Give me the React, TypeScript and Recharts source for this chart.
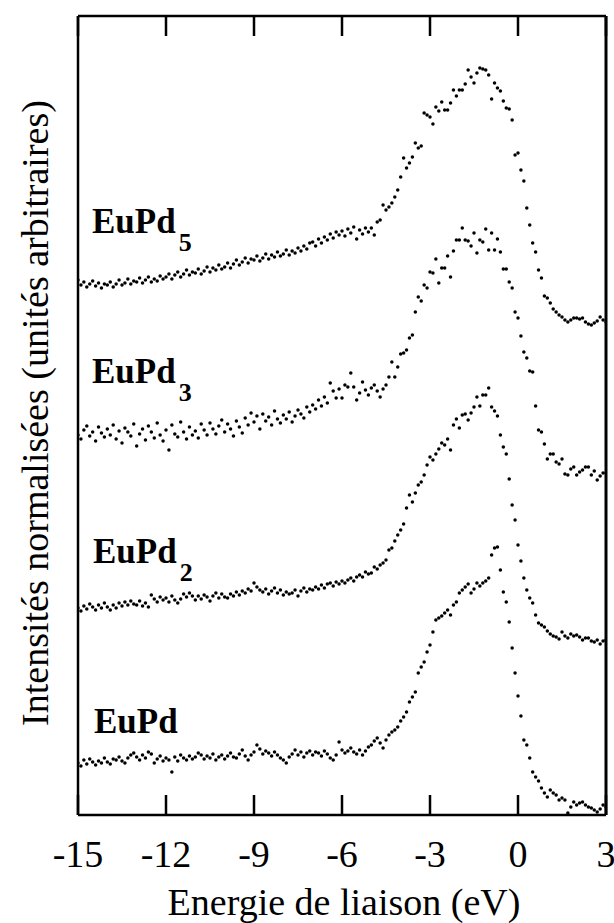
import { ScatterChart, Scatter, XAxis, YAxis, ReferenceLine } from 'recharts';

// binding energy grid: -15 eV to +3 eV, one point every 0.1 eV
const ENERGY_START = -15;
const ENERGY_STEP = 0.1;
const X_TICKS = [-15, -12, -9, -6, -3, 0, 3];
const Y_MAX = 799;

// normalised intensities (arbitrary units, offsets included)
const eupd5 = [
  535, 530, 533, 528, 531, 534, 529, 532, 527, 531,
  530, 533, 528, 531, 535, 530, 532, 536, 531, 534,
  533, 537, 532, 535, 538, 533, 536, 534, 539, 536,
  538, 541, 536, 540, 543, 538, 541, 545, 540, 543,
  542, 546, 541, 544, 548, 543, 547, 545, 550, 546,
  548, 552, 547, 551, 555, 550, 553, 557, 552, 556,
  555, 559, 554, 557, 561, 556, 560, 558, 563, 559,
  561, 565, 560, 564, 562, 567, 564, 569, 566, 572,
  573, 569, 576, 572, 578, 575, 581, 577, 583, 580,
  584, 579, 586, 582, 588, 576, 585, 581, 587, 583,
  587, 580, 593, 595, 610, 605, 608, 612, 618, 625,
  638, 657, 647, 652, 658, 672, 667, 669, 702, 700,
  698, 691, 708, 704, 713, 705, 705, 712, 725, 719,
  725, 725, 731, 745, 738, 732, 742, 747, 746, 745,
  740, 716, 732, 727, 724, 714, 707, 706, 695, 660,
  662, 645, 634, 607, 590, 572, 563, 545, 537, 519,
  517, 512, 506, 503, 500, 498, 495, 493, 495, 497,
  497, 496, 497, 493, 491, 490, 492, 494, 498, 495,
  493,
];

const eupd3 = [
  380, 376, 385, 389, 379, 383, 374, 388, 382, 378,
  386, 380, 390, 376, 384, 372, 387, 383, 379, 391,
  369, 381, 386, 375, 389, 383, 377, 392, 380, 374,
  385, 365, 390, 381, 378, 393, 383, 376, 388, 380,
  384, 377, 391, 385, 380, 392, 386, 381, 389, 395,
  383, 391, 386, 379, 394, 388, 382, 397, 390, 402,
  393, 399, 386, 401, 394, 398, 390, 404, 396, 392,
  400, 396, 403, 393, 399, 405, 401, 397, 408, 403,
  410, 406, 415, 409, 418, 412, 432, 424, 417, 426,
  417, 430, 428, 442, 428, 415, 422, 433, 425, 420,
  427, 430, 424, 418, 426, 430, 438, 453, 438, 448,
  461, 462, 465, 477, 480, 503, 518, 514, 530, 527,
  543, 542, 556, 532, 547, 547, 559, 538, 564, 575,
  575, 587, 575, 574, 569, 582, 562, 575, 573, 586,
  565, 582, 565, 576, 563, 546, 546, 533, 527, 503,
  497, 479, 463, 457, 444, 443, 409, 385, 383, 371,
  356, 361, 361, 353, 351, 356, 341, 340, 346, 348,
  340, 343, 345, 348, 348, 340, 344, 335, 339, 342,
  342,
];

const eupd2 = [
  207, 204, 209, 206, 211, 208, 205, 210, 207, 212,
  208, 205, 210, 207, 212, 209, 213, 210, 214, 211,
  210, 214, 209, 212, 208, 220, 216, 213, 218, 215,
  217, 213, 219, 215, 212, 216, 221, 218, 222, 219,
  215, 219, 216, 220, 218, 214, 219, 222, 217, 221,
  218, 217, 221, 219, 223, 220, 224, 222, 226, 224,
  232, 228, 225, 223, 226, 221, 224, 227, 222, 225,
  220, 223, 221, 222, 225, 219, 224, 227, 223, 226,
  225, 228, 226, 230, 227, 231, 232, 229, 233, 231,
  234, 232, 235, 237, 234, 238, 240, 238, 243, 241,
  242, 248, 246, 250, 252, 255, 265, 267, 274, 280,
  285, 291, 307, 320, 313, 322, 330, 333, 340, 350,
  358, 355, 361, 366, 372, 370, 376, 365, 390, 396,
  387, 400, 401, 395, 402, 408, 418, 409, 420, 420,
  427, 408, 404, 399, 380, 368, 361, 336, 310, 295,
  270, 254, 237, 225, 217, 212, 200, 192, 190, 188,
  184, 181, 179, 178, 176, 183, 179, 177, 181, 179,
  180, 178, 175, 177, 177, 174, 173, 175, 171, 174,
  175,
];

const eupd = [
  52, 49, 55, 51, 56, 53, 50, 54, 52, 57,
  53, 51, 56, 55, 58, 54, 52, 57, 60, 62,
  58, 55, 60, 57, 63, 61, 52, 56, 59, 54,
  57, 55, 43, 58, 54, 60, 57, 55, 59, 56,
  58, 62, 60, 56, 59, 57, 61, 55, 58, 60,
  56, 59, 62, 58, 57, 61, 65, 59, 55, 60,
  63, 70, 66, 61, 64, 62, 59, 63, 60, 57,
  55, 52, 58, 61, 65, 60, 63, 58, 62, 64,
  60, 63, 62, 59, 64, 61, 57, 55, 60, 73,
  65, 62, 64, 67, 63, 61, 65, 60, 64, 68,
  70, 74, 77, 72, 67, 75, 80, 83, 85, 88,
  94, 98, 103, 113, 118, 123, 142, 148, 153, 163,
  170, 183, 195, 197, 199, 202, 205, 200, 210, 213,
  222, 225, 228, 231, 222, 226, 232, 229, 232, 234,
  237, 260, 267, 268, 245, 223, 213, 193, 167, 142,
  119, 99, 75, 70, 57, 43, 38, 34, 27, 22,
  18, 25, 22, 20, 15, 17, 15, 2, 8, 13,
  10, 12, 13, 10, 8, 7, 5, 3, 6, 10,
  8,
];

const SERIES_NAMES = ['EuPd5', 'EuPd3', 'EuPd2', 'EuPd'];
const LABEL_SUBS = ['5', '3', '2', ''];

// label placement (page px): left edge and text baseline
const LABEL_POS = [
  { left: 92, baseline: 233 },
  { left: 92, baseline: 383 },
  { left: 93, baseline: 563 },
  { left: 94, baseline: 733 },
];

const SERIF = '"Liberation Serif", "Times New Roman", Times, serif';
const W = 614;
const H = 923;
const MARGIN = { top: 16, right: 8, bottom: 48, left: 77 };
const X_AXIS_H = 60;
const PLOT_TOP = MARGIN.top;
const PLOT_BOTTOM = H - MARGIN.bottom - X_AXIS_H;
const TICK_LEN = 20;

const toPoints = (values: number[]) =>
  values.map((v, i) => ({ x: +(ENERGY_START + i * ENERGY_STEP).toFixed(1), y: v }));

const seriesData = [eupd5, eupd3, eupd2, eupd].map(toPoints);

const Dot = (props: any) => <circle cx={props.cx} cy={props.cy} r={1.75} fill="#000" />;

// label below the axis plus inward tick marks on the bottom and top frame edges
const FrameTick = ({ x, y, payload }: any) => (
  <g>
    <line x1={x} x2={x} y1={PLOT_BOTTOM} y2={PLOT_BOTTOM - TICK_LEN} stroke="#000" strokeWidth={2.5} />
    <line x1={x} x2={x} y1={PLOT_TOP} y2={PLOT_TOP + TICK_LEN} stroke="#000" strokeWidth={2.5} />
    <text x={x} y={y + 46} textAnchor="middle" fontFamily={SERIF} fontSize={38} fill="#000">
      {payload.value}
    </text>
  </g>
);

export default function App() {
  return (
    <div style={{ position: 'relative', width: W, height: H, fontFamily: SERIF, color: '#000' }}>
      <style>{'html { overflow: hidden; } body { margin: 0; }'}</style>
      <ScatterChart width={W} height={H} margin={MARGIN}>
        <XAxis
          type="number"
          dataKey="x"
          domain={[-15, 3]}
          ticks={X_TICKS}
          interval={0}
          height={X_AXIS_H}
          tickSize={6}
          tickMargin={0}
          tickLine={false}
          axisLine={{ stroke: '#000', strokeWidth: 2.5 }}
          tick={<FrameTick />}
          allowDataOverflow
        />
        <YAxis
          type="number"
          dataKey="y"
          domain={[0, Y_MAX]}
          width={1}
          tick={false}
          tickLine={false}
          axisLine={{ stroke: '#000', strokeWidth: 2.5 }}
          allowDataOverflow
        />
        {/* top and right edges of the frame */}
        <ReferenceLine y={Y_MAX} stroke="#000" strokeWidth={2.5} />
        <ReferenceLine x={3} stroke="#000" strokeWidth={3} />
        {seriesData.map((pts, i) => (
          <Scatter
            key={SERIES_NAMES[i]}
            name={SERIES_NAMES[i]}
            data={pts}
            fill="#000"
            shape={Dot}
            isAnimationActive={false}
          />
        ))}
      </ScatterChart>

      {LABEL_POS.map((p, i) => (
        <div
          key={SERIES_NAMES[i]}
          style={{
            position: 'absolute',
            left: p.left,
            top: p.baseline - 29.3,
            fontSize: 35,
            lineHeight: '35px',
            fontWeight: 'bold',
            whiteSpace: 'nowrap',
          }}
        >
          EuPd
          {LABEL_SUBS[i] && (
            <span style={{ fontSize: 26, verticalAlign: '-18px', marginLeft: 3 }}>{LABEL_SUBS[i]}</span>
          )}
        </div>
      ))}

      <div
        style={{
          position: 'absolute',
          left: 44,
          top: 883,
          width: 600,
          fontSize: 38,
          lineHeight: '38px',
          textAlign: 'center',
          whiteSpace: 'nowrap',
        }}
      >
        Energie de liaison (eV)
      </div>

      <div
        style={{
          position: 'absolute',
          left: 35 - 400,
          top: 413 - 19,
          width: 800,
          fontSize: 38,
          lineHeight: '38px',
          textAlign: 'center',
          whiteSpace: 'nowrap',
          transform: 'rotate(-90deg)',
        }}
      >
        Intensités normalisées (unités arbitraires)
      </div>
    </div>
  );
}
